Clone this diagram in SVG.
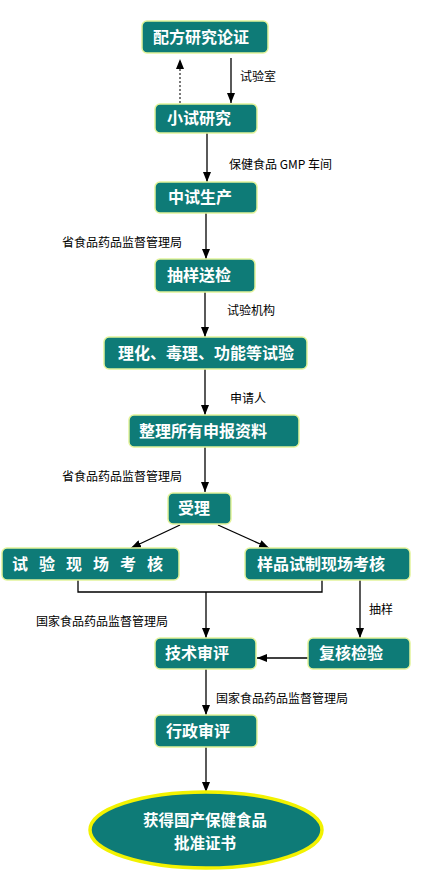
<svg xmlns="http://www.w3.org/2000/svg" width="428" height="878" viewBox="0 0 428 878">
<defs>
<style>
.box{fill:#0e7b77;stroke:#e2f39a;stroke-width:1.5}
.ell{fill:#0e7b77;stroke:#f2f200;stroke-width:3.5}
.bt{font-family:"Noto Sans CJK SC","Noto Sans",sans-serif;font-size:16px;font-weight:bold;fill:#ffffff}
.et{font-family:"Noto Sans CJK SC","Noto Sans",sans-serif;font-size:15.5px;font-weight:bold;fill:#ffffff}
.lb{font-family:"Noto Sans CJK SC","Noto Sans",sans-serif;font-size:12px;fill:#000000}
.ln{stroke:#000;stroke-width:1.3;fill:none}
.ar{stroke:#000;stroke-width:1.3;fill:none;marker-end:url(#ah)}
.dt{stroke:#333;stroke-width:1.3;fill:none;stroke-dasharray:2,2;marker-end:url(#ah)}
</style>
<marker id="ah" markerUnits="userSpaceOnUse" markerWidth="10" markerHeight="8" refX="10" refY="4" orient="auto">
<path d="M0,0 L10,4 L0,8 z" fill="#000"/>
</marker>
</defs>
<rect width="428" height="878" fill="#ffffff"/>
<g id="connectors">
<line class="dt" x1="180" y1="103" x2="180" y2="59"/>
<line class="ar" x1="231" y1="58" x2="231" y2="103"/>
<line class="ar" x1="207" y1="133" x2="207" y2="182"/>
<line class="ar" x1="206" y1="213" x2="206" y2="259"/>
<line class="ar" x1="205" y1="292" x2="205" y2="337"/>
<line class="ar" x1="205" y1="369" x2="205" y2="415"/>
<line class="ar" x1="205" y1="447" x2="205" y2="492"/>
<line class="ar" x1="180" y1="525" x2="131" y2="548"/>
<line class="ar" x1="218" y1="525" x2="269" y2="548"/>
<polyline class="ln" points="78,580 78,592 322,592 322,580"/>
<line class="ar" x1="206" y1="592" x2="206" y2="638"/>
<line class="ar" x1="360" y1="580" x2="360" y2="638"/>
<line class="ar" x1="308" y1="658" x2="257" y2="658"/>
<line class="ar" x1="206" y1="669" x2="206" y2="715"/>
<line class="ar" x1="206" y1="747" x2="206" y2="792"/>
</g>
<g id="labels">
<text class="lb" x="240" y="81">试验室</text>
<text class="lb" x="229" y="169">保健食品 GMP 车间</text>
<text class="lb" x="62" y="247">省食品药品监督管理局</text>
<text class="lb" x="227" y="315">试验机构</text>
<text class="lb" x="230" y="403">申请人</text>
<text class="lb" x="62" y="481">省食品药品监督管理局</text>
<text class="lb" x="36" y="626">国家食品药品监督管理局</text>
<text class="lb" x="369" y="614">抽样</text>
<text class="lb" x="216" y="703">国家食品药品监督管理局</text>
</g>
<g id="n1"><rect class="box" x="142" y="21" width="126" height="32" rx="5"/><text class="bt" x="153" y="43">配方研究论证</text></g>
<g id="n2"><rect class="box" x="155" y="104" width="102" height="29" rx="5"/><text class="bt" x="167" y="124">小试研究</text></g>
<g id="n3"><rect class="box" x="155" y="182" width="102" height="31" rx="5"/><text class="bt" x="168" y="203">中试生产</text></g>
<g id="n4"><rect class="box" x="155" y="259" width="100" height="33" rx="5"/><text class="bt" x="167" y="281">抽样送检</text></g>
<g id="n5"><rect class="box" x="104" y="337" width="203" height="32" rx="5"/><text class="bt" x="118" y="359">理化、毒理、功能等试验</text></g>
<g id="n6"><rect class="box" x="129" y="415" width="170" height="32" rx="5"/><text class="bt" x="139" y="437">整理所有申报资料</text></g>
<g id="n7"><rect class="box" x="168" y="493" width="63" height="31" rx="5"/><text class="bt" x="178" y="514">受理</text></g>
<g id="n8"><rect class="box" x="2" y="548" width="177" height="32" rx="5"/><text class="bt" x="12" y="570" letter-spacing="11">试验现场考核</text></g>
<g id="n9"><rect class="box" x="245" y="548" width="165" height="32" rx="5"/><text class="bt" x="257" y="570">样品试制现场考核</text></g>
<g id="n10"><rect class="box" x="155" y="638" width="101" height="31" rx="5"/><text class="bt" x="165" y="659">技术审评</text></g>
<g id="n11"><rect class="box" x="308" y="638" width="102" height="31" rx="5"/><text class="bt" x="319" y="659">复核检验</text></g>
<g id="n12"><rect class="box" x="155" y="715" width="102" height="32" rx="5"/><text class="bt" x="166" y="737">行政审评</text></g>
<g id="n13"><ellipse class="ell" cx="206" cy="830" rx="116" ry="38"/><text class="et" x="205" y="826" text-anchor="middle">获得国产保健食品</text><text class="et" x="205" y="849" text-anchor="middle">批准证书</text></g>
</svg>
